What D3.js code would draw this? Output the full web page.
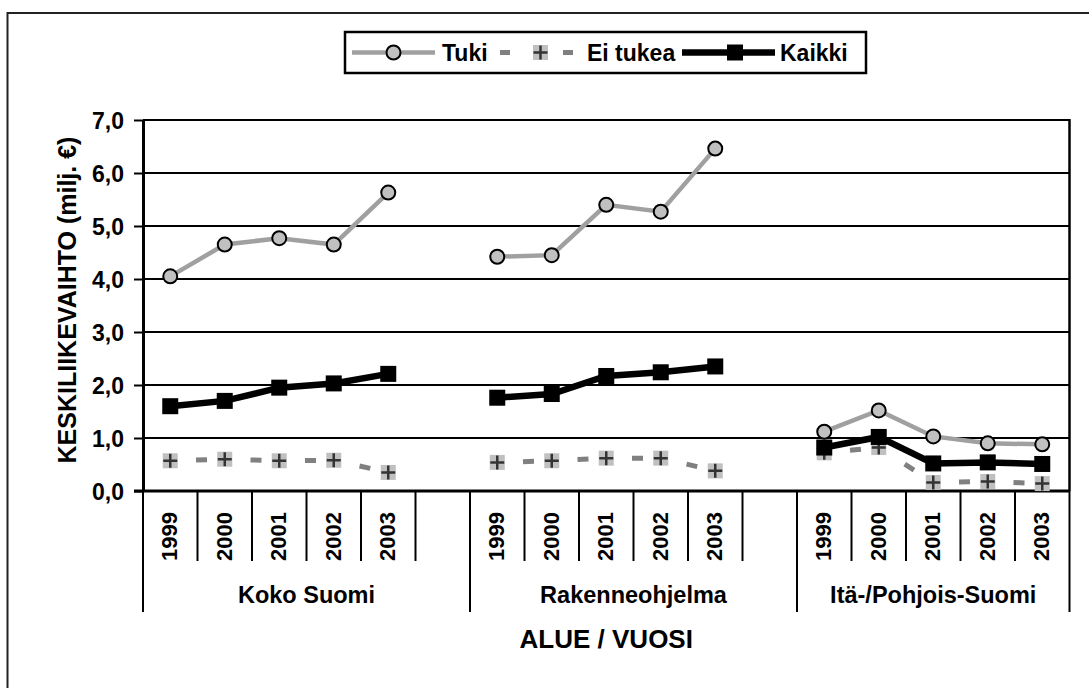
<!DOCTYPE html>
<html>
<head>
<meta charset="utf-8">
<script src="https://cdn.jsdelivr.net/npm/d3@7"></script>
<style>
  html, body { margin: 0; padding: 0; background: #fff; }
  svg text { font-family: "Liberation Sans", Arial, sans-serif; font-weight: bold; fill: #000; }
</style>
</head>
<body>
<svg id="chart" width="1089" height="688"></svg>
<script>
const groups = ["Koko Suomi", "Rakenneohjelma", "Itä-/Pohjois-Suomi"];
const years = ["1999", "2000", "2001", "2002", "2003"];
const yTicks = [0, 1, 2, 3, 4, 5, 6, 7];
const seriesNames = ["Tuki", "Ei tukea", "Kaikki"];

// values per group, 1999..2003 (milj. €)
const tuki = [
  [4.05, 4.65, 4.77, 4.65, 5.63],
  [4.42, 4.45, 5.40, 5.27, 6.46],
  [1.12, 1.52, 1.03, 0.90, 0.88]
];
const eiTukea = [
  [0.57, 0.60, 0.57, 0.58, 0.35],
  [0.54, 0.57, 0.62, 0.62, 0.38],
  [0.72, 0.82, 0.16, 0.18, 0.14]
];
const kaikki = [
  [1.60, 1.70, 1.95, 2.03, 2.21],
  [1.76, 1.83, 2.17, 2.24, 2.35],
  [0.82, 1.02, 0.52, 0.54, 0.51]
];

const svg = d3.select("#chart");
const pLeft = 143, pRight = 1069.5, pTop = 120, pBottom = 491;

// outer frame (runs past the picture edge on right and bottom)
svg.append("rect").attr("x", 7.5).attr("y", 13).attr("width", 1200).attr("height", 800)
  .attr("fill", "none").attr("stroke", "#222").attr("stroke-width", 2);

// slots: 5 years + gap per group, last group without gap
const slots = [];
groups.forEach((g, gi) => {
  years.forEach(yr => slots.push(gi + "|" + yr));
  if (gi < groups.length - 1) slots.push(gi + "|gap");
});

const x = d3.scaleBand().domain(slots).range([pLeft, pRight]).padding(0);
const y = d3.scaleLinear().domain([0, 7]).range([pBottom, pTop]);
const fi = d3.formatLocale({decimal: ",", thousands: " ", grouping: [3], currency: ["", "€"]});
const fmt = fi.format(".1f");

// gridlines
svg.append("g").selectAll("line").data(yTicks.filter(d => d > 0)).join("line")
  .attr("x1", pLeft).attr("x2", pRight)
  .attr("y1", d => y(d)).attr("y2", d => y(d))
  .attr("stroke", "#000").attr("stroke-width", 2);

// right border
svg.append("line").attr("x1", pRight).attr("x2", pRight).attr("y1", pTop - 1).attr("y2", pBottom)
  .attr("stroke", "#000").attr("stroke-width", 2.5);

// y axis
const yAxis = svg.append("g").attr("transform", `translate(${pLeft},0)`)
  .call(d3.axisLeft(y).tickValues(yTicks).tickFormat(fmt).tickSize(9).tickSizeOuter(0).tickPadding(10));
yAxis.select(".domain").attr("stroke", "#000").attr("stroke-width", 3);
yAxis.selectAll(".tick line").attr("stroke", "#000").attr("stroke-width", 2);
yAxis.selectAll(".tick text").attr("font-size", 23).attr("font-family", null).attr("dy", "0.36em");

// x axis baseline
svg.append("line").attr("x1", pLeft - 9).attr("x2", pRight).attr("y1", pBottom).attr("y2", pBottom)
  .attr("stroke", "#000").attr("stroke-width", 3);

// category boundary ticks
const bounds = slots.map(s => x(s)).concat([pRight]);
const tallIdx = new Set([0, 6, 12, slots.length]);
svg.append("g").selectAll("line").data(bounds).join("line")
  .attr("x1", d => d).attr("x2", d => d)
  .attr("y1", pBottom)
  .attr("y2", (d, i) => tallIdx.has(i) ? 612 : 561)
  .attr("stroke", "#000").attr("stroke-width", 2);

// year labels
svg.append("g").selectAll("text").data(slots.filter(s => !s.endsWith("gap"))).join("text")
  .attr("transform", d => `translate(${x(d) + x.bandwidth() / 2 - 1},512) rotate(-90)`)
  .attr("text-anchor", "end").attr("dy", "0.36em")
  .attr("font-size", 22)
  .text(d => d.split("|")[1]);

// group labels
svg.append("g").selectAll("text").data(groups).join("text")
  .attr("x", (d, gi) => (x(gi + "|1999") + (gi < groups.length - 1 ? x((gi + 1) + "|1999") : pRight)) / 2)
  .attr("y", 603).attr("text-anchor", "middle").attr("font-size", 23.5)
  .text(d => d);

// axis titles
svg.append("text").attr("x", (pLeft + pRight) / 2).attr("y", 648).attr("text-anchor", "middle")
  .attr("font-size", 26).text("ALUE / VUOSI");
svg.append("text").attr("transform", `translate(76,300) rotate(-90)`)
  .attr("text-anchor", "middle").attr("font-size", 25).text("KESKILIIKEVAIHTO (milj. €)");

// series
const cx = (gi, j) => x(gi + "|" + years[j]) + x.bandwidth() / 2;
const line = d3.line().x(d => d.x).y(d => d.y);
const pts = arr => arr.map((vals, gi) => vals.map((v, j) => ({x: cx(gi, j), y: y(v)})));

const tukiPts = pts(tuki), eiPts = pts(eiTukea), kaikkiPts = pts(kaikki);

function drawCircle(g, px, py) {
  g.append("circle").attr("cx", px).attr("cy", py).attr("r", 7)
    .attr("fill", "#c0c0c0").attr("stroke", "#000").attr("stroke-width", 2);
}
function drawPlus(g, px, py) {
  g.append("rect").attr("x", px - 7.5).attr("y", py - 7.5).attr("width", 15).attr("height", 15).attr("fill", "#c0c0c0");
  g.append("path").attr("d", `M${px - 7},${py}H${px + 7}M${px},${py - 7}V${py + 7}`)
    .attr("stroke", "#333").attr("stroke-width", 2.5);
}
function drawSquare(g, px, py) {
  g.append("rect").attr("x", px - 8).attr("y", py - 8).attr("width", 16).attr("height", 16).attr("fill", "#000");
}
function dashSeg(g, a, b) {
  const L = Math.hypot(b.x - a.x, b.y - a.y), d = 11, off = L / 2 + 4 - d / 2;
  g.append("line").attr("x1", a.x).attr("y1", a.y).attr("x2", b.x).attr("y2", b.y)
    .attr("stroke", "#808080").attr("stroke-width", 5)
    .attr("stroke-dasharray", `0 ${off} ${d} ${L}`);
}

const gT = svg.append("g");
tukiPts.forEach(p => {
  gT.append("path").attr("d", line(p)).attr("fill", "none").attr("stroke", "#a0a0a0").attr("stroke-width", 4.5);
  p.forEach(q => drawCircle(gT, q.x, q.y));
});
const gE = svg.append("g");
eiPts.forEach(p => {
  for (let i = 0; i < p.length - 1; i++) dashSeg(gE, p[i], p[i + 1]);
  p.forEach(q => drawPlus(gE, q.x, q.y));
});
const gK = svg.append("g");
kaikkiPts.forEach(p => {
  gK.append("path").attr("d", line(p)).attr("fill", "none").attr("stroke", "#000").attr("stroke-width", 6.5);
  p.forEach(q => drawSquare(gK, q.x, q.y));
});

// legend
const lg = svg.append("g");
lg.append("rect").attr("x", 345).attr("y", 32).attr("width", 521).attr("height", 41)
  .attr("fill", "#fff").attr("stroke", "#000").attr("stroke-width", 2.5);
const ly = 52.5;
// Tuki
lg.append("line").attr("x1", 352).attr("x2", 435).attr("y1", ly).attr("y2", ly).attr("stroke", "#a0a0a0").attr("stroke-width", 4.5);
drawCircle(lg, 393.5, ly);
lg.append("text").attr("x", 442).attr("y", ly).attr("dy", "0.36em").attr("font-size", 23).text(seriesNames[0]);
// Ei tukea
lg.append("line").attr("x1", 500).attr("x2", 510).attr("y1", ly).attr("y2", ly).attr("stroke", "#808080").attr("stroke-width", 5);
lg.append("line").attr("x1", 563).attr("x2", 573).attr("y1", ly).attr("y2", ly).attr("stroke", "#808080").attr("stroke-width", 5);
drawPlus(lg, 540.5, ly);
lg.append("text").attr("x", 587).attr("y", ly).attr("dy", "0.36em").attr("font-size", 23).text(seriesNames[1]);
// Kaikki
lg.append("line").attr("x1", 682).attr("x2", 775).attr("y1", ly).attr("y2", ly).attr("stroke", "#000").attr("stroke-width", 6.5);
drawSquare(lg, 735, ly);
lg.append("text").attr("x", 780).attr("y", ly).attr("dy", "0.36em").attr("font-size", 23).text(seriesNames[2]);
</script>
</body>
</html>
